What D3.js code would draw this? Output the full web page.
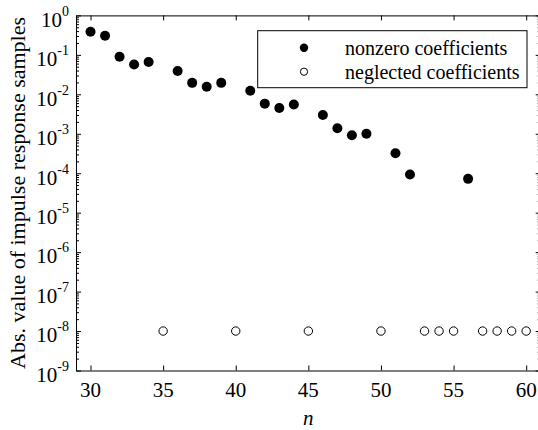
<!DOCTYPE html>
<html>
<head>
<meta charset="utf-8">
<script src="https://cdn.jsdelivr.net/npm/d3@7"></script>
</head>
<body style="margin:0">
<svg id="chart" width="538" height="430"></svg>
<script>
// nonzero coefficients (filled markers)
const nonzeroN = [30, 31, 32, 33, 34, 36, 37, 38, 39, 41, 42, 43, 44, 46, 47, 48, 49, 51, 52, 56];
const nonzeroVal = [0.385, 0.305, 0.09, 0.057, 0.066, 0.039, 0.0195, 0.0155, 0.0195, 0.0123,
                    0.0058, 0.0045, 0.0055, 0.003, 0.00138, 0.00092, 0.001, 0.00032, 0.000093, 0.000072];
// neglected coefficients (open markers)
const neglectedN = [35, 40, 45, 50, 53, 54, 55, 57, 58, 59, 60];
const neglectedVal = [1e-8, 1e-8, 1e-8, 1e-8, 1e-8, 1e-8, 1e-8, 1e-8, 1e-8, 1e-8, 1e-8];

const xTicks = [30, 35, 40, 45, 50, 55, 60];
const yExponents = [0, -1, -2, -3, -4, -5, -6, -7, -8, -9];
const legendLabels = ["nonzero coefficients", "neglected coefficients"];

const font = '"Liberation Serif"';
const svg = d3.select("#chart");
const pLeft = 76, pRight = 540.7, pTop = 15.4, pBottom = 370.5;
const fs = 21;

const x = d3.scaleLinear().domain([29, 61]).range([pLeft, pRight]);
const y = d3.scaleLog().domain([1e-9, 1]).range([pBottom, pTop]);

const yMajor = yExponents.map(e => Math.pow(10, e));
const yMinor = [];
yExponents.forEach(e => {
  if (e === 0) return;
  for (let k = 2; k <= 9; k++) yMinor.push(k * Math.pow(10, e));
});

// all tick marks come from d3 axes; the labels are plain text below
const axes = svg.append("g");
axes.append("g").attr("transform", `translate(0,${pBottom})`)
  .call(d3.axisBottom(x).tickValues(xTicks).tickSize(-5).tickSizeOuter(0).tickFormat(""));
axes.append("g").attr("transform", `translate(0,${pTop})`)
  .call(d3.axisTop(x).tickValues(xTicks).tickSize(-5).tickSizeOuter(0).tickFormat(""));
axes.append("g").attr("transform", `translate(${pLeft},0)`)
  .call(d3.axisLeft(y).tickValues(yMajor).tickSize(-5).tickSizeOuter(0).tickFormat(""));
axes.append("g").attr("transform", `translate(${pLeft},0)`)
  .call(d3.axisLeft(y).tickValues(yMinor).tickSize(-3).tickSizeOuter(0).tickFormat(""))
  .select(".domain").remove();
axes.append("g").attr("transform", `translate(${pRight},0)`)
  .call(d3.axisRight(y).tickValues(yMajor).tickSize(-5).tickSizeOuter(0).tickFormat(""));
axes.append("g").attr("transform", `translate(${pRight},0)`)
  .call(d3.axisRight(y).tickValues(yMinor).tickSize(-3).tickSizeOuter(0).tickFormat(""))
  .select(".domain").remove();
// drop the sans-serif font attributes that d3.axis puts on its groups, and the empty tick texts
axes.selectAll("g").attr("font-family", null).attr("font-size", null);
axes.selectAll("text").remove();
axes.selectAll(".tick line, .domain").attr("stroke", "#000");

// x tick labels
svg.append("g").selectAll("text").data(xTicks).join("text")
  .attr("x", d => x(d)).attr("y", pBottom + 26.5).attr("text-anchor", "middle")
  .attr("font-size", fs).style("font-family", font).text(d => d);

// y tick labels, 10 with superscript exponent
const yl = svg.append("g").selectAll("text").data(yMajor).join("text")
  .attr("x", pLeft - 7).attr("y", d => y(d) + 11.3).attr("text-anchor", "end")
  .attr("font-size", fs).style("font-family", font);
yl.append("tspan").text("10");
yl.append("tspan").attr("font-size", 14).attr("dy", -11).text(d => String(Math.round(Math.log10(d))));

// axis labels
svg.append("text")
  .attr("transform", `translate(25,${(pTop + pBottom) / 2}) rotate(-90)`)
  .attr("text-anchor", "middle").attr("font-size", 22).style("font-family", font)
  .text("Abs. value of impulse response samples");
svg.append("text")
  .attr("x", x(45)).attr("y", 425).attr("text-anchor", "middle").style("font-family", font)
  .attr("font-size", fs).attr("font-style", "italic").text("n");

// markers
svg.append("g").selectAll("circle").data(nonzeroN).join("circle")
  .attr("cx", d => x(d)).attr("cy", (d, i) => y(nonzeroVal[i]))
  .attr("r", 5).attr("fill", "#000");
svg.append("g").selectAll("circle").data(neglectedN).join("circle")
  .attr("cx", d => x(d)).attr("cy", (d, i) => y(neglectedVal[i]))
  .attr("r", 4.2).attr("fill", "none").attr("stroke", "#000").attr("stroke-width", 1);

// legend
const lg = svg.append("g");
lg.append("rect").attr("x", 257.7).attr("y", 30.7).attr("width", 269.3).attr("height", 57)
  .attr("fill", "#fff").attr("stroke", "#000").attr("stroke-width", 1);
legendLabels.forEach((lab, i) => {
  const cy = 47.7 + i * 24;
  if (i === 0) lg.append("circle").attr("cx", 304).attr("cy", cy).attr("r", 4.2).attr("fill", "#000");
  else lg.append("circle").attr("cx", 304).attr("cy", cy).attr("r", 3.6).attr("fill", "none").attr("stroke", "#000");
  lg.append("text").attr("x", 345).attr("y", cy + 7).attr("font-size", 20).style("font-family", font).text(lab);
});
</script>
</body>
</html>
